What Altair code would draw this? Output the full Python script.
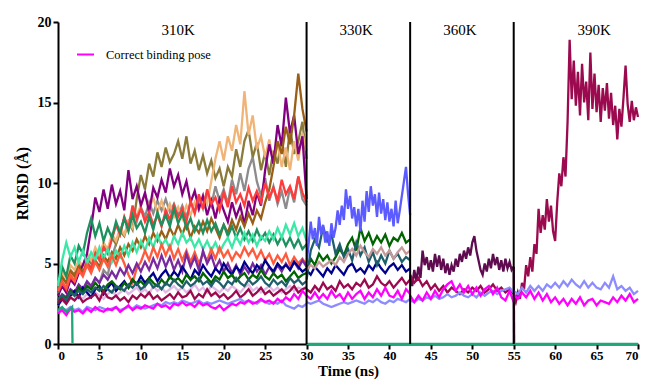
import altair as alt
import pandas as pd

STEP = 0.5
FINE = 0.25
T310, T330, T360, T390 = 0.0, 30.0, 42.5, 55.0

# ---- series values (RMSD, Å), sampled every 0.5 ns (or 0.25 ns) from the start of each phase ----
magenta_310 = [1.9,2.1,1.8,2.2,2.0,2.1,1.9,2.2,2.0,2.3,2.1,2.0,2.2,2.1,2.3,2.0,2.2,2.4,2.1,2.3,2.2,2.4,2.3,2.2,2.5,2.3,2.4,2.2,2.5,2.4,2.6,2.4,2.5,2.3,2.6,2.4,2.5,2.3,2.2,2.4,2.1,2.3,2.5,2.4,2.6,2.5,2.7,2.5,2.6,2.8,2.6,2.7,2.5,2.8,2.6,2.9,2.7,3.1,2.8,3.3,3.0]
magenta_330 = [3.0,2.8,3.2,2.8,3.1,2.8,3.3,2.9,3.1,2.7,3.2,2.8,3.1,3.3,2.8,3.2,2.9,3.4,3.0,3.5,3.0,2.9,3.3,2.8,3.4,3.1]
magenta_360 = [3.0,2.6,3.0,2.7,3.2,2.8,3.3,2.9,3.4,3.7,3.9,3.3,3.7,3.2,3.6,3.1,3.5,3.0,3.4,3.6,3.1,3.5,2.9,2.7,3.3,2.6]
magenta_390 = [3.1,2.8,3.2,2.9,3.3,2.8,3.2,2.7,3.1,2.6,2.9,2.5,2.8,2.4,2.8,2.5,2.9,2.4,2.7,2.8,2.4,2.7,2.6,2.5,2.9,2.6,3.0,2.7,3.1,2.6,2.8]

peri_310 = [2.0,2.2,2.1,2.3,2.1,2.2,2.0,2.3,2.2,2.1,2.3,2.2,2.1,2.2,2.3,2.1,2.2,2.3,2.2,2.4,2.3,2.2,2.3,2.4,2.5,2.4,2.6,2.5,2.6,2.5,2.7,2.6,2.5,2.6,2.7,2.5,2.6,2.5,2.6,2.7,2.6,2.5,2.6,2.7,2.8,2.6,2.7,2.6,2.5,2.7,2.6,2.5,2.6,2.5,2.7,2.4,2.3,2.2,2.4,2.3,2.5]
peri_330 = [2.6,2.5,2.6,2.7,2.5,2.4,2.3,2.4,2.5,2.6,2.5,2.6,2.7,2.6,2.5,2.7,2.6,2.8,2.6,2.5,2.7,2.6,2.8,2.7,2.6,2.8]
peri_360 = [2.7,2.6,2.8,2.7,2.9,2.8,3.0,2.8,2.9,3.1,2.9,3.0,3.2,3.0,2.9,3.1,2.9,3.2,3.0,3.2,3.3,3.1,3.3,3.4,3.5,3.2]
peri_390 = [3.3,3.1,3.5,3.2,3.6,3.3,3.6,3.3,3.7,3.5,3.8,3.5,3.9,3.6,4.0,3.7,3.5,3.9,3.5,3.8,3.5,3.4,3.8,3.5,4.2,3.4,3.6,3.3,3.5,3.1,3.3]

burg_310 = [2.6,2.8,2.5,2.9,2.7,3.0,2.6,2.8,2.9,3.1,2.7,3.3,2.9,2.8,3.0,2.7,2.9,2.6,3.0,2.8,3.1,2.9,3.2,2.8,3.0,2.7,2.9,3.1,2.8,3.2,2.9,3.0,3.3,2.8,3.1,2.9,3.4,3.0,3.2,2.9,3.1,2.8,3.0,3.3,2.9,3.1,3.4,3.0,3.2,3.5,3.1,3.3,3.0,3.2,3.4,3.1,3.3,3.6,3.2,3.4,3.5]
burg_330 = [3.4,3.2,3.6,3.3,3.8,3.4,3.6,3.3,3.9,3.5,3.7,3.4,3.8,3.6,4.0,3.5,3.7,4.2,3.8,3.6,3.9,3.5,3.8,4.1,3.7,4.0]
burg_360 = [4.3,3.8,4.1,3.6,3.9,3.4,3.7,3.3,3.6,3.2,3.5,3.3,3.1,3.4,3.2,3.5,3.3,3.6,3.2,3.4,3.7,3.3,3.5,3.2,3.4,3.1]
# 0.25 ns sampling
burg_390 = [3.0,2.6,3.2,2.8,3.8,3.4,4.9,4.2,5.4,4.5,6.2,5.6,8.4,6.9,8.0,7.1,9.0,7.6,8.6,7.0,6.4,8.8,10.6,9.8,11.6,10.4,13.8,18.9,15.2,17.6,14.8,16.9,14.2,17.4,15.0,16.3,13.9,18.1,14.6,16.8,14.4,16.1,13.8,15.9,14.5,16.2,14.0,15.6,13.6,14.8,12.7,14.6,13.5,15.3,17.3,14.9,13.8,15.1,13.9,14.7,14.1]

# 0.25 ns sampling
plum_360 = [4.2,3.6,4.6,3.9,4.8,4.1,5.8,4.9,5.4,4.6,5.2,4.5,5.6,4.8,5.5,4.6,5.3,4.4,5.0,4.3,4.9,4.5,5.3,4.8,5.6,5.1,5.8,5.3,6.0,5.5,6.3,6.7,5.8,5.2,4.6,4.3,5.0,4.5,5.3,4.7,5.6,4.9,5.4,4.6,5.2,4.5,5.3,4.7,5.1,4.6,4.8]
plum_drop_t = [55.05]
plum_drop_v = [0.0]

# 0.25 ns sampling
blue_330 = [5.0,6.2,7.6,6.5,7.2,6.1,7.9,6.8,7.4,6.3,7.0,6.1,7.5,6.6,7.2,8.3,7.4,8.6,7.7,9.6,8.4,9.2,7.8,8.5,7.3,8.4,7.0,8.9,7.6,9.5,8.2,9.8,8.6,9.3,7.9,9.4,8.1,9.0,7.7,8.8,7.6,8.4,7.3,8.9,7.5,8.3,9.2,10.1,11.0,9.3,8.0]

teal_310 = [2.8,3.0,2.7,3.2,3.0,3.3,3.1,3.4,3.2,3.5,3.3,3.6,3.4,3.2,3.6,3.5,3.3,3.7,3.5,3.8,3.4,3.6,3.9,3.5,3.7,3.4,3.8,3.6,4.0,3.7,3.5,3.9,3.6,3.8,4.1,3.7,3.9,3.6,4.0,3.8,3.5,3.9,3.7,4.1,3.8,3.6,4.0,3.7,3.9,4.2,3.8,3.6,4.0,3.7,3.9,3.6,4.1,3.8,4.0,3.7,3.9]
teal_330 = [4.0,5.8,6.5,6.0,7.3,6.4,6.8,5.6,6.2,5.4,5.9,5.2,6.3,5.5,6.0,5.1,5.7,4.9,5.5,5.0,5.8,5.3,5.6,5.1,5.4,5.2]

dgreen_310 = [2.5,3.0,2.8,3.3,3.0,3.5,3.2,3.6,3.4,3.8,3.5,3.3,3.7,3.9,3.6,3.4,3.8,3.5,4.0,3.7,3.9,3.6,4.1,3.8,3.6,4.0,3.7,4.2,3.9,4.1,3.8,4.3,4.0,4.2,3.9,4.4,4.1,3.8,4.2,4.0,4.5,4.1,4.3,3.9,4.2,4.4,4.0,4.3,4.1,4.6,4.2,4.0,4.4,4.1,4.3,3.9,4.2,4.5,4.1,4.3,4.4]
dgreen_330 = [4.5,5.3,4.9,5.6,5.2,5.5,5.0,5.4,5.9,5.5,6.2,6.6,5.8,7.2,6.4,6.9,6.2,6.7,6.3,6.8,6.1,6.6,6.4,6.9,6.3,6.5]

navy_310 = [2.4,2.8,2.6,3.0,3.3,2.9,3.5,3.2,2.9,3.4,3.6,3.1,3.5,3.8,3.3,3.6,3.9,3.5,4.0,3.7,4.2,3.8,4.1,4.4,3.9,4.3,4.6,4.1,4.5,4.2,4.8,4.4,4.0,4.6,4.3,4.9,4.5,4.2,4.7,4.4,5.0,4.6,4.3,4.8,4.5,5.1,4.7,4.4,4.9,4.6,5.2,4.8,4.5,5.0,4.7,4.9,4.6,5.1,4.8,4.5,4.7]
navy_330 = [4.6,4.3,4.8,4.5,4.2,4.7,4.4,4.9,4.6,4.3,4.8,5.0,4.5,4.7,4.4,4.9,4.6,5.1,4.7,4.4,4.8,5.0,4.6,4.9,4.5,4.7]

rosy_330 = [4.6,4.9,4.7,5.1,4.8,5.0,5.2,4.9,5.4,5.1,5.6,5.9,5.5,6.1,5.7,5.4,5.9,5.6,6.0,5.5,5.8,5.3,5.7,6.0,5.6,5.8]

olive_310 = [3.5,4.2,3.8,4.6,4.3,5.0,4.6,5.3,5.0,5.8,5.4,6.2,5.8,6.6,6.2,7.0,6.7,7.6,7.1,9.0,10.5,9.6,11.2,10.4,11.9,11.0,12.2,11.3,11.8,12.6,11.5,12.9,11.2,12.0,10.8,11.7,10.6,11.4,10.3,10.9,9.8,11.0,10.4,12.1,11.0,12.6,13.3,11.6,12.5,10.8,11.9,10.5,12.0,11.2,12.8,11.0,13.4,11.8,12.6,13.8,11.5]
purple_310 = [3.0,3.6,3.2,4.0,3.7,4.4,4.9,5.6,7.2,9.1,8.2,9.6,8.4,9.9,8.7,9.5,8.3,10.8,9.0,9.8,8.6,9.4,8.2,9.7,9.1,10.2,9.4,10.9,9.8,10.5,9.3,10.1,8.8,9.5,8.4,9.2,8.0,8.9,7.8,9.0,8.3,7.6,8.8,7.9,8.6,7.4,8.9,8.0,9.4,8.6,10.8,12.4,11.2,13.6,12.3,15.3,13.1,14.2,11.8,12.9,9.0]
tan_310 = [3.8,4.5,4.1,4.9,4.6,5.2,4.8,5.6,5.2,6.0,5.5,6.3,5.9,6.8,6.4,7.2,6.8,7.6,7.2,8.0,8.6,9.3,8.4,9.1,8.2,8.9,8.0,8.7,7.9,8.5,7.8,8.6,8.0,8.8,8.3,9.2,8.7,10.1,11.5,12.6,11.4,12.9,12.0,13.6,12.4,15.7,13.0,14.2,12.1,12.9,11.6,12.7,11.3,12.5,11.0,12.2,10.8,12.6,11.4,13.1,12.0]
brown_310 = [3.6,4.1,3.8,4.5,4.2,4.8,4.4,5.0,4.6,5.2,4.8,5.5,5.1,5.7,5.3,6.0,5.5,6.2,5.8,6.5,6.0,6.7,6.2,6.9,6.4,7.0,6.5,7.2,6.7,7.4,6.8,7.5,6.6,7.3,6.9,7.6,7.0,7.8,7.2,6.6,7.4,6.9,7.7,7.1,7.9,7.3,8.1,7.5,8.3,7.8,8.8,9.6,11.0,12.6,11.8,13.5,12.4,14.2,16.8,14.6,13.2]
gray_310 = [2.6,3.0,2.8,3.3,3.1,3.6,3.3,3.8,3.5,4.1,3.8,4.6,4.3,5.4,6.2,7.0,7.8,7.2,8.3,7.6,8.5,7.9,8.8,8.1,8.9,8.3,9.0,8.2,8.7,8.0,8.6,7.9,8.8,8.2,9.1,8.4,9.4,8.6,9.8,8.9,9.6,8.7,10.2,9.3,10.6,9.5,10.9,11.6,10.1,9.2,10.3,8.9,9.8,8.7,9.5,8.4,9.7,8.8,10.4,9.0,8.6]
red_310 = [3.2,3.8,3.4,4.2,3.9,4.6,4.3,5.1,4.7,5.6,5.2,6.0,5.6,6.5,7.4,6.8,7.9,7.2,8.6,7.8,8.4,7.6,8.2,7.4,8.0,7.3,8.3,7.7,8.6,7.9,8.4,7.6,8.9,8.1,9.3,8.4,9.6,8.7,9.1,8.3,9.4,8.5,9.8,8.8,9.3,8.6,9.7,8.9,9.5,8.8,10.0,9.1,9.7,8.9,10.2,9.3,9.8,9.0,10.4,9.4,8.8]
tomato_310 = [3.3,3.9,3.5,4.3,3.9,4.6,4.2,4.9,4.4,5.1,4.6,5.3,4.8,5.5,4.9,5.6,5.0,4.3,3.8,4.7,5.1,5.8,5.2,6.0,5.4,6.2,5.5,6.1,5.3,5.9,5.2,5.8,5.1,5.7,5.0,5.6,5.2,5.9,5.3,6.0,5.4,5.8,5.2,5.7,5.4,6.0,5.5,5.9,5.3,5.8,5.2,5.6,5.0,5.5,5.1,5.6,4.9,5.4,5.0,5.3,4.9]
seagreen_310 = [3.2,4.8,4.2,5.5,5.0,6.1,5.6,6.9,7.8,6.7,7.5,6.4,7.2,6.6,7.6,6.9,7.8,7.0,8.0,7.2,7.6,6.9,7.9,7.1,8.2,7.4,8.0,7.3,8.4,7.5,8.1,7.2,7.8,7.0,7.6,6.9,7.7,7.0,7.5,6.8,7.4,6.7,7.3,6.6,7.2,6.5,7.0,6.4,7.1,6.5,6.9,6.3,6.8,6.2,6.7,6.1,6.6,6.0,6.5,5.9,6.2]
aqua_310 = [3.6,5.2,6.3,5.4,6.0,5.1,5.8,5.0,5.7,5.2,6.0,5.3,5.9,5.1,5.8,5.4,6.1,5.5,6.3,5.7,6.4,5.8,6.6,6.0,6.8,6.1,6.5,5.9,6.7,6.2,6.9,6.3,6.6,6.0,6.5,5.9,6.4,5.8,6.3,5.7,6.2,6.6,6.0,6.7,6.2,6.9,6.3,6.8,6.1,6.7,6.4,7.0,6.5,7.2,6.6,7.4,6.8,7.5,6.7,7.2,6.4]
violet_310 = [2.7,3.1,2.9,3.4,3.2,3.7,3.4,3.9,3.6,4.1,3.8,4.3,4.0,4.5,4.1,4.7,4.3,4.9,4.4,5.0,4.5,5.1,4.6,5.3,4.7,5.5,4.8,5.4,4.6,5.2,4.5,5.6,4.8,5.4,4.6,5.8,5.0,5.5,4.7,5.2,4.5,5.0,4.4,4.9,4.3,4.8,4.4,5.0,4.5,4.9,4.3,4.8,4.4,4.9,4.5,5.0,4.6,5.1,4.7,5.2,4.8]
thistle_310 = [2.4,2.7,2.5,2.9,2.7,3.0,2.8,3.1,2.9,3.2,3.0,2.8,3.1,3.3,3.0,3.2,3.4,3.1,3.3,3.5,3.2,3.4,3.1,3.6,3.3,3.5,3.2,3.4,3.6,3.3,3.5,3.2,3.4,3.7,3.3,3.5,3.2,3.6,3.4,3.2,3.5,3.3,3.6,3.4,3.2,3.5,3.7,3.3,3.5,3.2,3.4,3.6,3.3,3.5,3.2,3.4,3.6,3.3,3.5,3.4,3.6]

green_t1 = [0.0, 0.5, 1.0, 1.5, 1.7, 1.75]
green_v1 = [2.1, 2.3, 2.0, 2.2, 2.3, 0.0]
green_t2 = [30.0, 70.0]
green_v2 = [0.0, 0.0]

# draw order: first = bottom
series_names = ["Gray", "Olive", "Tan", "Purple", "Brown", "Red", "Sea green", "Aquamarine",
                "Tomato", "Violet", "Thistle", "Navy", "Dark green", "Teal", "Rosy", "Blue",
                "Plum", "Burgundy", "Periwinkle", "Correct binding pose", "Green"]
series_colors = ["#8C8C8C", "#8B7B3A", "#F0B478", "#800080", "#9A5E16", "#FF3B3B", "#1E8F5E", "#3CE8A8",
                 "#FF5A3C", "#7A2AA0", "#E2B8E6", "#00008B", "#006400", "#1F5F6B", "#C49A9A", "#5B5BFF",
                 "#5E0B4F", "#9B0A4E", "#8C8CFF", "#FF00FF", "#21A57A"]

phase_t = [30.0, 42.5, 55.0]
phase_labels = ["310K", "330K", "360K", "390K"]
phase_label_t = [14.5, 36.0, 48.5, 64.7]
x_ticks = [0, 5, 10, 15, 20, 25, 30, 35, 40, 45, 50, 55, 60, 65, 70]

rows = []


def add(name, start, vals, seg=0, step=STEP):
    for i, v in enumerate(vals):
        rows.append({"series": name, "seg": f"{name}-{seg}", "t": start + step * i, "rmsd": v})


def add_xy(name, ts, vs, seg):
    for t, v in zip(ts, vs):
        rows.append({"series": name, "seg": f"{name}-{seg}", "t": t, "rmsd": v})


add("Gray", T310, gray_310)
add("Olive", T310, olive_310)
add("Tan", T310, tan_310)
add("Purple", T310, purple_310)
add("Brown", T310, brown_310)
add("Red", T310, red_310)
add("Sea green", T310, seagreen_310)
add("Aquamarine", T310, aqua_310)
add("Tomato", T310, tomato_310)
add("Violet", T310, violet_310)
add("Thistle", T310, thistle_310)
add("Navy", T310, navy_310)
add("Navy", T330, navy_330, 1)
add("Dark green", T310, dgreen_310)
add("Dark green", T330, dgreen_330, 1)
add("Teal", T310, teal_310)
add("Teal", T330, teal_330, 1)
add("Rosy", T330, rosy_330)
add("Blue", T330, blue_330, 0, FINE)
add("Plum", T360, plum_360, 0, FINE)
add_xy("Plum", [T390] + plum_drop_t, [plum_360[-1]] + plum_drop_v, 1)
add("Burgundy", T310, burg_310)
add("Burgundy", T330, burg_330, 1)
add("Burgundy", T360, burg_360, 2)
add("Burgundy", T390, burg_390, 3, FINE)
add("Periwinkle", T310, peri_310)
add("Periwinkle", T330, peri_330, 1)
add("Periwinkle", T360, peri_360, 2)
add("Periwinkle", T390, peri_390, 3)
add("Correct binding pose", T310, magenta_310)
add("Correct binding pose", T330, magenta_330, 1)
add("Correct binding pose", T360, magenta_360, 2)
add("Correct binding pose", T390, magenta_390, 3)
add_xy("Green", green_t1, green_v1, 0)
add_xy("Green", green_t2, green_v2, 1)

df = pd.DataFrame(rows)

FONT = "Liberation Serif"

x_scale = alt.Scale(domain=[0, 70], nice=False)
y_scale = alt.Scale(domain=[0, 20], nice=False)

lines = alt.Chart(df).mark_line(strokeWidth=2.3).encode(
    x=alt.X("t:Q", scale=x_scale,
            axis=alt.Axis(title="Time (ns)", values=x_ticks, labelFontSize=13, titleFontSize=15,
                          titlePadding=1, labelPadding=0)),
    y=alt.Y("rmsd:Q", scale=y_scale,
            axis=alt.Axis(title="RMSD (Å)", values=[0, 5, 10, 15, 20], labelFontSize=14,
                          titleFontSize=16, titlePadding=7, labelPadding=2)),
    color=alt.Color("series:N", scale=alt.Scale(domain=series_names, range=series_colors),
                    legend=alt.Legend(values=["Correct binding pose"], orient="none", legendX=18,
                                      legendY=23, title=None, symbolType="stroke",
                                      symbolStrokeWidth=2, symbolSize=289, labelFont=FONT,
                                      labelFontSize=12.5, labelColor="black", labelOffset=11)),
    detail="seg:N",
)

phase_df = pd.DataFrame({"t": phase_t})
rules = alt.Chart(phase_df).mark_rule(color="black", strokeWidth=2).encode(
    x=alt.X("t:Q", scale=x_scale),
    y=alt.datum(0),
    y2=alt.datum(20),
)

label_df = pd.DataFrame({"t": phase_label_t, "label": phase_labels, "v": [19.5] * 4})
labels = alt.Chart(label_df).mark_text(font=FONT, fontSize=15, color="black", baseline="middle").encode(
    x=alt.X("t:Q", scale=x_scale),
    y=alt.Y("v:Q", scale=y_scale),
    text="label:N",
)

chart = alt.layer(lines, rules, labels).properties(
    width=580, height=322,
    autosize=alt.AutoSizeParams(type="none"),
    padding={"left": 50, "top": 14, "right": 8, "bottom": 35},
).configure_view(stroke=None).configure_axis(
    grid=False, domainColor="black", domainWidth=2, tickColor="black", tickWidth=2, tickSize=5,
    labelFont=FONT, titleFont=FONT, labelFontWeight="bold", titleFontWeight="bold",
    labelColor="black", titleColor="black",
)

chart.save("out.html", embed_options={"renderer": "svg", "actions": False})
